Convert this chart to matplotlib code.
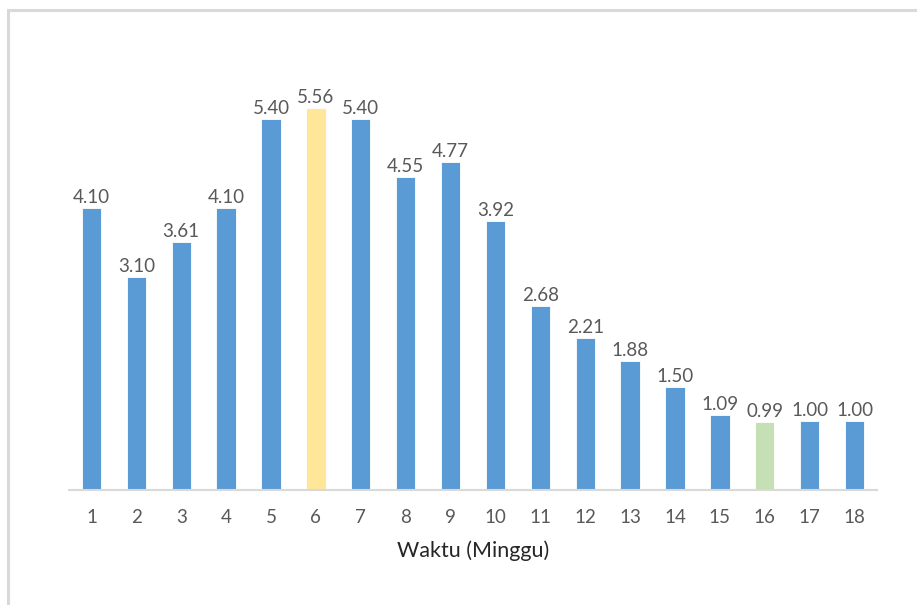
import matplotlib
matplotlib.use("Agg")
import matplotlib.pyplot as plt
from matplotlib.patches import Rectangle

weeks = [str(i) for i in range(1, 19)]
values = [4.10, 3.10, 3.61, 4.10, 5.40, 5.56, 5.40, 4.55, 4.77, 3.92,
          2.68, 2.21, 1.88, 1.50, 1.09, 0.99, 1.00, 1.00]
highlight = {"6": "#FFE699", "16": "#C5E0B4"}
base_color = "#5B9BD5"

plt.rcParams["font.family"] = ["Lato", "DejaVu Sans"]

W, H = 917, 605
fig = plt.figure(figsize=(W / 100, H / 100), dpi=100)

# chart frame (light gray border running off the right and bottom edges)
fig.patches.append(Rectangle((8 / W, -0.05), 1.1, 1 - 10 / H + 0.05,
                             transform=fig.transFigure, fill=False,
                             edgecolor="#D9D9D9", linewidth=2.2))

ax = fig.add_axes([69 / W, (H - 490) / H, (877 - 69) / W, (490 - 60) / H])

x = list(range(len(weeks)))
colors = [highlight.get(w, base_color) for w in weeks]
bars = ax.bar(x, values, width=0.43, color=colors, edgecolor="white", linewidth=0.6)

for xi, v in zip(x, values):
    ax.text(xi, v + 0.03, f"{v:.2f}", ha="center", va="bottom",
            fontsize=13.5, color="#595959")

ax.set_xlim(-0.5, len(weeks) - 0.5)
ax.set_ylim(0, 430 / 68.7)
ax.set_xticks(x)
ax.set_xticklabels(weeks, fontsize=13.5, color="#595959")
ax.tick_params(axis="x", length=0, pad=14)
ax.set_yticks([])
for side in ("top", "right", "left"):
    ax.spines[side].set_visible(False)
ax.spines["bottom"].set_color("#D9D9D9")
ax.spines["bottom"].set_linewidth(1.5)
ax.set_xlabel("Waktu (Minggu)", fontsize=15.5, color="#262626", labelpad=10)

fig.savefig("out.png", dpi=100)
